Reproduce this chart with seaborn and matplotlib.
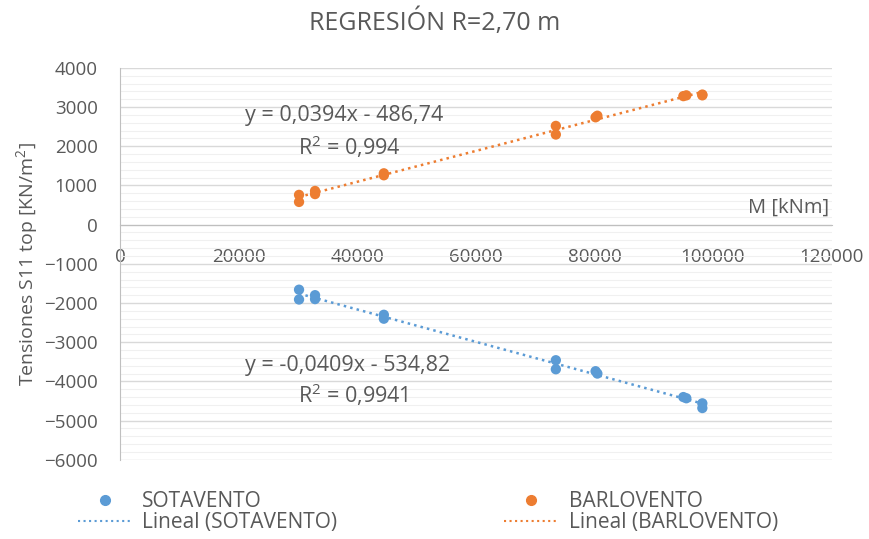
import numpy as np
import pandas as pd
import seaborn as sns
import matplotlib.pyplot as plt
from matplotlib.lines import Line2D
from matplotlib.ticker import MultipleLocator

# datos
momento = [30200, 30200, 32900, 32900, 44500, 44500, 73500, 73500,
           80200, 80500, 95000, 95500, 98200, 98200]
sotavento = [-1660, -1910, -1800, -1900, -2300, -2400, -3460, -3690,
             -3740, -3800, -4400, -4430, -4560, -4680]
barlovento = [760, 580, 860, 780, 1310, 1260, 2520, 2300,
              2740, 2780, 3280, 3300, 3320, 3300]

series = ['SOTAVENTO', 'BARLOVENTO']
colores = ['#5B9BD5', '#ED7D31']
ecuaciones = ['y = -0,0409x - 534,82', 'y = 0,0394x - 486,74']
r2 = ['R$^2$ = 0,9941', 'R$^2$ = 0,994']

df = pd.DataFrame({
    'M': momento + momento,
    'S11': sotavento + barlovento,
    'serie': ['SOTAVENTO'] * len(momento) + ['BARLOVENTO'] * len(momento),
})

sns.set_style('white')
plt.rcParams['font.family'] = ['Open Sans', 'DejaVu Sans']
plt.rcParams['mathtext.fontset'] = 'custom'
plt.rcParams['mathtext.rm'] = 'Open Sans'
txt = '#595959'

fig = plt.figure(figsize=(8.69, 5.39), dpi=100)
ax = fig.add_axes([0.138, 0.147, 0.819, 0.727])

# regresion lineal de cada serie
for s, c in zip(series, colores):
    sns.regplot(data=df[df.serie == s], x='M', y='S11', ax=ax, scatter=False,
                ci=None, color=c, line_kws={'linestyle': ':', 'linewidth': 1.8})

sns.scatterplot(data=df, x='M', y='S11', hue='serie', palette=colores,
                hue_order=series, s=55, edgecolor='none', legend=False,
                ax=ax, zorder=3)

ax.set_xlim(0, 120000)
ax.set_ylim(-6000, 4000)
ax.xaxis.set_major_locator(MultipleLocator(20000))
ax.yaxis.set_major_locator(MultipleLocator(1000))
ax.yaxis.set_minor_locator(MultipleLocator(200))
ax.grid(axis='y', which='major', color='#D9D9D9', linewidth=1)
ax.grid(axis='y', which='minor', color='#F0F0F0', linewidth=0.8)
ax.set_axisbelow(True)

for sp in ['top', 'right']:
    ax.spines[sp].set_visible(False)
ax.spines['bottom'].set_position(('data', 0))
ax.spines['bottom'].set_color('#BFBFBF')
ax.spines['left'].set_color('#BFBFBF')
ax.tick_params(axis='x', which='major', direction='out', length=6, color='#BFBFBF',
               labelsize=13.5, labelcolor=txt, pad=11)
ax.tick_params(axis='y', which='major', direction='out', length=5, color='#BFBFBF',
               labelsize=13.5, labelcolor=txt, pad=11)
ax.tick_params(axis='y', which='minor', length=0)

ax.set_xlabel('')
ax.set_ylabel('Tensiones S11 top [KN/m$^2$]', fontsize=14, color=txt, labelpad=2)
ax.text(119500, 170, 'M [kNm]', ha='right', va='bottom', fontsize=14.5, color=txt)
fig.suptitle('REGRESIÓN R=2,70 m', x=0.5, y=0.958, va='center',
             fontsize=18, color=txt)

# ecuaciones de la linea de tendencia
ax.text(0.176, 0.878, ecuaciones[1], transform=ax.transAxes, fontsize=15.5,
        color=txt, va='center')
ax.text(0.25, 0.798, r2[1], transform=ax.transAxes, fontsize=15.5,
        color=txt, va='center')
ax.text(0.176, 0.24, ecuaciones[0], transform=ax.transAxes, fontsize=15.5,
        color=txt, va='center')
ax.text(0.25, 0.166, r2[0], transform=ax.transAxes, fontsize=15.5,
        color=txt, va='center')

handles = []
labels = []
for s, c in zip(series, colores):
    handles.append(Line2D([], [], marker='o', linestyle='none', color=c, markersize=7))
    labels.append(s)
    handles.append(Line2D([], [], linestyle=':', color=c, linewidth=1.5))
    labels.append('Lineal (' + s + ')')

leg = fig.legend(handles, labels, ncol=2, loc='upper left',
                 bbox_to_anchor=(0.068, 0.124), frameon=False, fontsize=15,
                 columnspacing=8, handlelength=2.6, handletextpad=0.5,
                 labelspacing=0.0, borderpad=0.4)
for t in leg.get_texts():
    t.set_color(txt)

fig.savefig('out.png', dpi=100)
